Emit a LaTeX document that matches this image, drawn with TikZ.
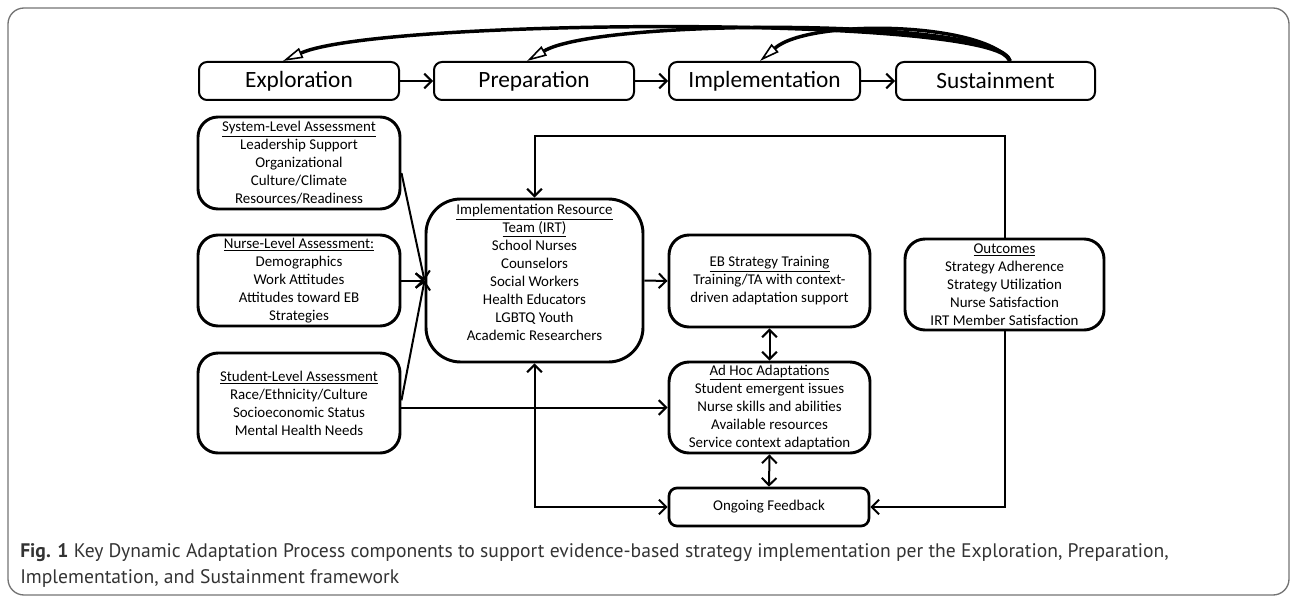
\documentclass[tikz,border=0pt]{standalone}
\usepackage{fontspec}
\setmainfont{Carlito}
\newfontfamily\capfont{PT Sans}
\usetikzlibrary{arrows.meta}

\tikzset{
  phase/.style={draw, line width=1.5pt, rounded corners=6pt, minimum height=28.5pt,
    inner sep=0pt, font=\fontsize{17.5}{21}\selectfont},
  stagebox/.style={draw, line width=2.2pt, rounded corners=15pt, align=center,
    inner sep=0pt, font=\fontsize{11.2}{13.5}\selectfont},
  link/.style={line width=1.5pt, -{Straight Barb[length=5.5pt,width=11pt]}},
  twoway/.style={line width=1.5pt, {Straight Barb[length=5.5pt,width=11pt]}-{Straight Barb[length=5.5pt,width=11pt]}},
  loopback/.style={line width=2.6pt, -{Triangle[open,length=15pt,width=8pt,line width=1.2pt]}},
}

\begin{document}
\begin{tikzpicture}[x=0.75pt, y=-0.75pt]
    \useasboundingbox (0, 0) rectangle (1292, 599);
    \draw [black!55, line width=1pt, rounded corners=12pt] (8, 8) rectangle (1289, 595); % frame
    % phases
    \node [phase, minimum width=150pt] (expl) at (299, 81) {Exploration};
    \node [phase, minimum width=150pt] (prep) at (534, 81) {Preparation};
    \node [phase, minimum width=143.25pt] (impl) at (764.5, 81) {Implementation};
    \node [phase, minimum width=149.25pt] (sust) at (995.5, 81) {Sustainment};
    \draw [link] (expl) to (prep);
    \draw [link] (prep) to (impl);
    \draw [link] (impl) to (sust);
    % loops back from sustainment
    \draw [loopback] ([xshift=10.9pt]sust.north) .. controls (1000, 15) and (380, 18) .. ([xshift=-12pt]expl.north);
    \draw [loopback] ([xshift=10.9pt]sust.north) .. controls (1000, 18) and (600, 18) .. ([xshift=-5.25pt]prep.north);
    \draw [loopback] ([xshift=10.9pt]sust.north) .. controls (985, 22) and (810, 18) .. ([xshift=-3.4pt]impl.north);
    % assessments
    \node [stagebox, minimum width=151.5pt, minimum height=69pt] (sys) at (299, 163) {%
      \underline{System-Level Assessment}\\Leadership Support\\Organizational\\Culture/Climate\\Resources/Readiness};
    \node [stagebox, minimum width=151.5pt, minimum height=68.25pt] (nurse) at (299, 280.5) {%
      \underline{Nurse-Level Assessment:}\\Demographics\\Work Attitudes\\Attitudes toward EB\\Strategies};
    \node [stagebox, minimum width=151.5pt, minimum height=75pt] (student) at (299, 403) {%
      \underline{Student-Level Assessment}\\Race/Ethnicity/Culture\\Socioeconomic Status\\Mental Health Needs};
    % resource team
    \node [stagebox, rounded corners=26pt, minimum width=162.75pt, minimum height=122.25pt] (irt) at (534.5, 280.5) {};
    \node [align=center, inner sep=0pt, font=\fontsize{11.2}{13.5}\selectfont] (irtText) at ([yshift=6pt]irt.center) {%
      \underline{Implementation Resource}\\\underline{Team (IRT)}\\School Nurses\\Counselors\\Social Workers\\Health Educators\\LGBTQ Youth\\Academic Researchers};
    % training and adaptations
    \node [stagebox, minimum width=150.75pt, minimum height=69pt] (eb) at (769.5, 281) {%
      \underline{EB Strategy Training}\\Training/TA with context-\\driven adaptation support};
    \node [stagebox, minimum width=150.75pt, minimum height=68.25pt] (adhoc) at (769.5, 407.5) {%
      \underline{Ad Hoc Adaptations}\\Student emergent issues\\Nurse skills and abilities\\Available resources\\Service context adaptation};
    \node [stagebox, line width=2pt, rounded corners=6pt, minimum width=150pt, minimum height=28.5pt] (ong) at (769, 507) {Ongoing Feedback};
    \node [stagebox, minimum width=149.25pt, minimum height=68.25pt] (out) at (1004.5, 284.5) {%
      \underline{Outcomes}\\Strategy Adherence\\Strategy Utilization\\Nurse Satisfaction\\IRT Member Satisfaction};
    % connectors
    \draw [link] ([yshift=-7.5pt]sys.east) to (irt.west);
    \draw [link] (nurse.east) to (irt.west);
    \draw [link] ([yshift=2pt]student.east) to (irt.west);
    \draw [link] (irt.east) to (eb.west);
    \draw [link] (student.east |- adhoc.west) to (adhoc.west);
    \draw [twoway] (eb.south) to (adhoc.north);
    \draw [twoway] (adhoc.south) to (ong.north);
    \draw [twoway] (irt.south) |- (ong.west);
    \draw [link] (out.south) |- (ong.east);
    \draw [link] (out.north) -- ++(0, -102) -| (irt.north);
    % caption
    \node [anchor=west, align=left, inner sep=0pt, text=black!80,
      font=\capfont\fontsize{14.7}{19.5}\selectfont] (cap) at (20, 565) {%
      \textbf{Fig. 1} Key Dynamic Adaptation Process components to support evidence-based strategy implementation per the Exploration, Preparation,\\
      Implementation, and Sustainment framework};
\end{tikzpicture}
\end{document}
